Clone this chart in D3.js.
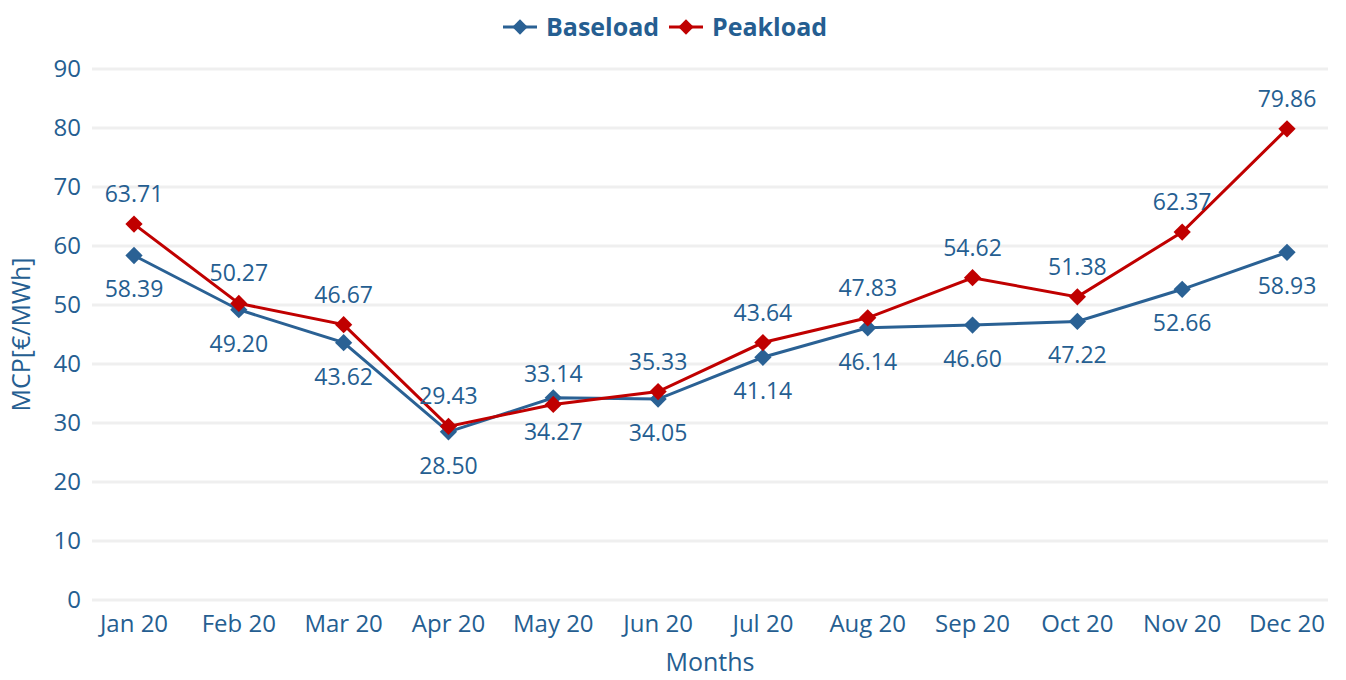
<!DOCTYPE html>
<html>
<head>
<meta charset="utf-8">
<script src="https://cdn.jsdelivr.net/npm/d3@7"></script>
<style>
body { margin:0; background:#fff; }
text { font-family: "Open Sans", "Noto Sans", sans-serif; fill:#255e91; }
</style>
</head>
<body>
<div id="my_viz"></div>
<script>
const months = ["Jan 20","Feb 20","Mar 20","Apr 20","May 20","Jun 20","Jul 20","Aug 20","Sep 20","Oct 20","Nov 20","Dec 20"]
const baseload = [58.39, 49.20, 43.62, 28.50, 34.27, 34.05, 41.14, 46.14, 46.60, 47.22, 52.66, 58.93]
const peakload = [63.71, 50.27, 46.67, 29.43, 33.14, 35.33, 43.64, 47.83, 54.62, 51.38, 62.37, 79.86]
const y_ticks = [0,10,20,30,40,50,60,70,80,90]

const width = 1346
const height = 680
const grid_left = 92
const grid_right = 1328
const blue = "#2a6194"
const red = "#c00000"

var svg = d3.select("#my_viz")
.append("svg")
.attr("width", width)
.attr("height", height)

var xAxis = d3.scalePoint()
.domain(months)
.range([134, 1287])

var yAxis = d3.scaleLinear()
.domain([0, 90])
.range([600, 69])

// gridlines
svg.append("g")
.selectAll("line")
.data(y_ticks)
.enter()
.append("line")
.attr("x1", grid_left)
.attr("x2", grid_right)
.attr("y1", d => yAxis(d))
.attr("y2", d => yAxis(d))
.attr("stroke", "#efefef")
.attr("stroke-width", 3)

// y tick labels
svg.append("g")
.selectAll("text")
.data(y_ticks)
.enter()
.append("text")
.attr("x", 81)
.attr("y", d => yAxis(d))
.attr("dy", "0.35em")
.attr("text-anchor", "end")
.style("font-size", "24px")
.text(d => d)

// x tick labels
svg.append("g")
.selectAll("text")
.data(months)
.enter()
.append("text")
.attr("x", d => xAxis(d))
.attr("y", 632)
.attr("text-anchor", "middle")
.style("font-size", "24px")
.text(d => d)

// axis titles
svg.append("text")
.attr("x", (grid_left + grid_right) / 2)
.attr("y", 671)
.attr("text-anchor", "middle")
.style("font-size", "25px")
.text("Months")

svg.append("text")
.attr("transform", "translate(30," + yAxis(45) + ") rotate(-90)")
.attr("text-anchor", "middle")
.style("font-size", "25px")
.text("MCP[€/MWh]")

const series = [
{name:"Baseload", values:baseload, color:blue, above:false},
{name:"Peakload", values:peakload, color:red, above:true}
]

var line = d3.line()
.x((d,i) => xAxis(months[i]))
.y(d => yAxis(d))

var diamond = d3.symbol().type(d3.symbolDiamond2).size(190)

series.forEach(function(s){
	svg.append("path")
	.attr("d", line(s.values))
	.attr("fill", "none")
	.attr("stroke", s.color)
	.attr("stroke-width", 3)

	svg.append("g")
	.selectAll("path")
	.data(s.values)
	.enter()
	.append("path")
	.attr("d", diamond)
	.attr("transform", (d,i) => "translate(" + xAxis(months[i]) + "," + yAxis(d) + ")")
	.attr("fill", s.color)
})

// data labels
series.forEach(function(s){
	svg.append("g")
	.selectAll("text")
	.data(s.values)
	.enter()
	.append("text")
	.attr("x", (d,i) => xAxis(months[i]))
	.attr("y", d => yAxis(d) + (s.above ? -22 : 42))
	.attr("text-anchor", "middle")
	.style("font-size", "23px")
	.text(d => d.toFixed(2))
})

// legend
var legend = svg.append("g")
var legend_items = [
{name:"Baseload", color:blue, x:503},
{name:"Peakload", color:red, x:669}
]
legend_items.forEach(function(it){
	legend.append("line")
	.attr("x1", it.x)
	.attr("x2", it.x + 34)
	.attr("y1", 27)
	.attr("y2", 27)
	.attr("stroke", it.color)
	.attr("stroke-width", 3)
	legend.append("path")
	.attr("d", d3.symbol().type(d3.symbolDiamond2).size(150))
	.attr("transform", "translate(" + (it.x + 17) + ",27)")
	.attr("fill", it.color)
	legend.append("text")
	.attr("x", it.x + 43)
	.attr("y", 27)
	.attr("dy", "0.35em")
	.style("font-size", "25px")
	.style("font-weight", "bold")
	.text(it.name)
})
</script>
</body>
</html>
